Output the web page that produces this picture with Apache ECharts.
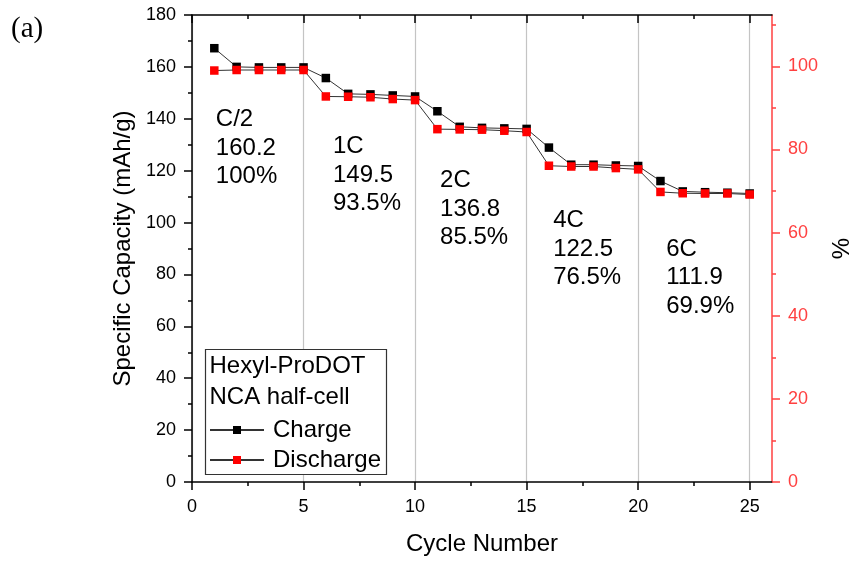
<!DOCTYPE html>
<html>
<head>
<meta charset="utf-8">
<script src="https://cdn.jsdelivr.net/npm/echarts@6/dist/echarts.min.js"></script>
<style>
html,body{margin:0;padding:0;background:#fff;}
#chart{width:850px;height:563px;}
</style>
</head>
<body>
<div id="chart"></div>
<script>
// ---- data ----
var cycles = [1,2,3,4,5,6,7,8,9,10,11,12,13,14,15,16,17,18,19,20,21,22,23,24,25];
var charge = [167.2,160.0,159.8,159.8,159.8,155.7,149.6,149.4,149.0,148.6,142.9,136.9,136.5,136.3,136.1,128.9,122.3,122.3,122.0,121.8,116.0,112.0,111.7,111.5,111.2];
var discharge = [158.6,158.8,158.8,158.8,158.8,148.6,148.5,148.3,147.6,147.2,136.0,135.9,135.8,135.4,134.9,121.9,121.6,121.6,121.0,120.5,111.8,111.3,111.2,111.2,110.8];
var xMajorTicks = [0,5,10,15,20,25];
var xMinorTicks = [2.5,7.5,12.5,17.5,22.5];
var pctMajorTicks = [0,20,40,60,80,100];
var pctMinorTicks = [10,30,50,70,90,110];
var refCapacity = 160.2;
var annotations = [
  {x: 1.07, y: 128.6, lines: ['C/2','160.2','100%']},
  {x: 6.32, y: 118.3, lines: ['1C','149.5','93.5%']},
  {x: 11.12, y: 105.2, lines: ['2C','136.8','85.5%']},
  {x: 16.19, y: 89.8, lines: ['4C','122.5','76.5%']},
  {x: 21.26, y: 78.8, lines: ['6C','111.9','69.9%']}
];
var legendTitle = ['Hexyl-ProDOT','NCA half-cell'];

var FONT = 'Liberation Sans, Arial, sans-serif';
var RED_AX = '#ff4040';
var chart = echarts.init(document.getElementById('chart'));

function pairs(vals){ return cycles.map(function(c,i){ return [c, vals[i]]; }); }

var xBase = {type:'value', min:0, max:26, gridIndex:0};
var option = {
  animation:false,
  backgroundColor:'#fff',
  grid:{left:192, right:78, top:15, bottom:81, containLabel:false, outerBoundsMode:'none'},
  xAxis:[
    Object.assign({}, xBase, {
      position:'bottom', name:'Cycle Number', nameLocation:'middle', nameGap:50,
      nameTextStyle:{fontFamily:FONT, fontSize:24, color:'#000'},
      axisLine:{show:true, onZero:false, lineStyle:{color:'#000', width:1.5}},
      axisTick:{show:true, inside:false, length:8, customValues:xMajorTicks, lineStyle:{color:'#000', width:1.5}},
      axisLabel:{show:true, customValues:xMajorTicks, margin:16, fontFamily:FONT, fontSize:18, color:'#000'},
      splitLine:{show:true, lineStyle:{color:'#c4c4c4', width:1.2}}
    }),
    Object.assign({}, xBase, {
      position:'bottom',
      axisLine:{show:false, onZero:false},
      axisTick:{show:true, inside:false, length:4, customValues:xMinorTicks, lineStyle:{color:'#000', width:1.5}},
      axisLabel:{show:false}, splitLine:{show:false}
    }),
    Object.assign({}, xBase, {
      position:'top',
      axisLine:{show:true, onZero:false, lineStyle:{color:'#000', width:1.5}},
      axisTick:{show:true, inside:true, length:8, customValues:xMajorTicks, lineStyle:{color:'#000', width:1.5}},
      axisLabel:{show:false}, splitLine:{show:false}
    }),
    Object.assign({}, xBase, {
      position:'top',
      axisLine:{show:false, onZero:false},
      axisTick:{show:true, inside:true, length:4, customValues:xMinorTicks, lineStyle:{color:'#000', width:1.5}},
      axisLabel:{show:false}, splitLine:{show:false}
    })
  ],
  yAxis:[
    {
      type:'value', position:'left', min:0, max:180, interval:20,
      name:'Specific Capacity (mAh/g)', nameLocation:'middle', nameGap:57, nameRotate:90,
      nameTextStyle:{fontFamily:FONT, fontSize:24, color:'#000'},
      axisLine:{show:true, onZero:false, lineStyle:{color:'#000', width:1.5}},
      axisTick:{show:true, inside:false, length:8, lineStyle:{color:'#000', width:1.5}},
      minorTick:{show:true, splitNumber:2, length:4, lineStyle:{color:'#000', width:1.5}},
      axisLabel:{margin:16, fontFamily:FONT, fontSize:18, color:'#000'},
      splitLine:{show:false}
    },
    {
      type:'value', position:'right', min:0, max:180/refCapacity*100,
      name:'%', nameLocation:'middle', nameGap:58, nameRotate:90,
      nameTextStyle:{fontFamily:FONT, fontSize:24, color:'#000'},
      axisLine:{show:true, onZero:false, lineStyle:{color:RED_AX, width:1.5}},
      axisTick:{show:true, inside:false, length:8, customValues:pctMajorTicks, lineStyle:{color:RED_AX, width:1.5}},
      axisLabel:{customValues:pctMajorTicks, margin:16, fontFamily:FONT, fontSize:18, color:RED_AX},
      splitLine:{show:false}
    },
    {
      type:'value', position:'right', min:0, max:180/refCapacity*100,
      axisLine:{show:false, onZero:false},
      axisTick:{show:true, inside:false, length:4, customValues:pctMinorTicks, lineStyle:{color:RED_AX, width:1.5}},
      axisLabel:{show:false}, splitLine:{show:false}
    }
  ],
  legend:{
    show:true, orient:'vertical', left:204, top:412, padding:5,
    itemWidth:54, itemHeight:10, itemGap:4,
    textStyle:{fontFamily:FONT, fontSize:24, color:'#000', lineHeight:26, padding:[0,0,0,4]},
    data:['Charge','Discharge'], z:6
  },
  series:[
    {
      name:'Charge', type:'line', xAxisIndex:0, yAxisIndex:0,
      data:pairs(charge), symbol:'rect', symbolSize:8.5,
      itemStyle:{color:'#000'}, lineStyle:{color:'#333', width:1}, z:3
    },
    {
      name:'Discharge', type:'line', xAxisIndex:0, yAxisIndex:0,
      data:pairs(discharge), symbol:'rect', symbolSize:8.5,
      itemStyle:{color:'#ff0000'}, lineStyle:{color:'#333', width:1}, z:4
    }
  ]
};
chart.setOption(option);

function draw(){
  var g = [];
  annotations.forEach(function(a){
    var p = chart.convertToPixel({xAxisIndex:0, yAxisIndex:0}, [a.x, a.y]);
    g.push({type:'text', x:p[0], y:p[1], z:10,
      style:{text:a.lines.join('\n'), fontFamily:FONT, fontSize:24, lineHeight:28.5,
             fill:'#000', textAlign:'left', textVerticalAlign:'middle'}});
  });
  g.push({type:'rect', shape:{x:205.5, y:349.5, width:181, height:125}, z:5,
    style:{fill:'#fff', stroke:'#333', lineWidth:1.2}});
  g.push({type:'text', x:209.5, y:351, z:10,
    style:{text:legendTitle.join('\n'), fontFamily:FONT, fontSize:24, lineHeight:31, fill:'#000', textAlign:'left', textVerticalAlign:'top'}});
  g.push({type:'text', x:11, y:29, z:10,
    style:{text:'(a)', fontFamily:'Liberation Serif, Times New Roman, serif', fontSize:29, fill:'#000', textAlign:'left', textVerticalAlign:'middle'}});
  chart.setOption({graphic:g});
}
draw();
</script>
</body>
</html>
